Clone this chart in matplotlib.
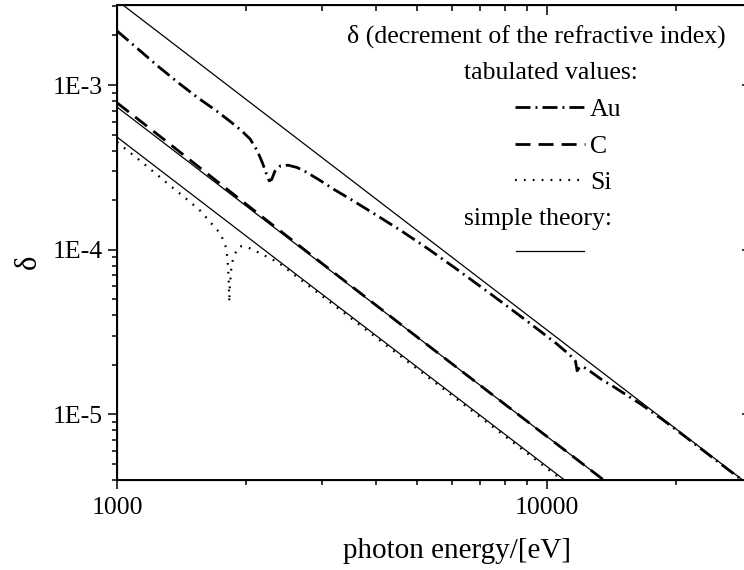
import numpy as np
import matplotlib
matplotlib.use('Agg')
import matplotlib.pyplot as plt
from matplotlib.ticker import FixedLocator, FixedFormatter, NullFormatter, LogLocator
from matplotlib.lines import Line2D

plt.rcParams['font.family'] = ['Liberation Serif', 'DejaVu Serif']

# tabulated delta values (E in eV)
au_E = [1000, 1100, 1250, 1400, 1550, 1700, 1850, 1950, 2040, 2120, 2180, 2225, 2260,
        2290, 2330, 2400, 2500, 2620, 2750, 2950, 3200, 3500, 4000, 4600, 5300, 6200,
        7500, 9000, 10500, 11300, 11650, 11760, 11850, 12100, 12600, 13400, 14200,
        15200, 16500, 18500, 21000, 25000, 30000]
au_d = [2.13e-3, 1.72e-3, 1.29e-3, 1.015e-3, 8.28e-4, 7.0e-4, 5.9e-4, 5.27e-4, 4.7e-4,
        3.99e-4, 3.36e-4, 2.9e-4, 2.62e-4, 2.67e-4, 3.0e-4, 3.23e-4, 3.26e-4, 3.16e-4,
        2.97e-4, 2.66e-4, 2.32e-4, 2.02e-4, 1.63e-4, 1.295e-4, 1.01e-4, 7.55e-5, 5.25e-5,
        3.68e-5, 2.705e-5, 2.3e-5, 2.11e-5, 1.84e-5, 1.9e-5, 1.96e-5, 1.83e-5, 1.63e-5,
        1.49e-5, 1.33e-5, 1.16e-5, 9.39e-6, 7.32e-6, 5.16e-6, 3.59e-6]

c_E = [1000, 1300, 1700, 2200, 3000, 5000, 10000, 14000]
c_d = [7.8e-4, 4.57e-4, 2.63e-4, 1.55e-4, 8.25e-5, 2.94e-5, 7.35e-6, 3.75e-6]

si_E = [1000, 1150, 1300, 1462, 1560, 1646, 1736, 1780, 1799, 1812, 1820, 1825, 1830,
        1845, 1860, 1900, 1932, 1980, 2037, 2120, 2208, 2367, 2600, 3000, 4000, 6000,
        8000, 11000, 13000]
si_d = [4.5e-4, 3.36e-4, 2.57e-4, 2.0e-4, 1.73e-4, 1.476e-4, 1.26e-4, 1.1e-4, 9.9e-5,
        8.0e-5, 6.2e-5, 4.8e-5, 6.0e-5, 7.8e-5, 8.7e-5, 1.0e-4, 1.05e-4, 1.05e-4, 1.02e-4,
        9.7e-5, 9.2e-5, 8.4e-5, 6.96e-5, 5.23e-5, 2.94e-5, 1.31e-5, 7.36e-6, 3.89e-6, 2.79e-6]

# simple theory (straight lines on log-log), values at 1 keV and 30 keV
th_E = [1000, 30000]
th_au = [3.26e-3, 3.62e-6]
th_c = [7.35e-4, 8.17e-7]
th_si = [4.83e-4, 5.37e-7]

xticks = [1000, 10000]
xticklabels = ['1000', '10000']
yticks = [1e-5, 1e-4, 1e-3]
yticklabels = ['1E-5', '1E-4', '1E-3']

fs = 18.5

fig = plt.figure(figsize=(7.44, 5.70), dpi=100)
ax = fig.add_axes([117/744, 90/570, 635/744, 475/570])

au_style = dict(color='black', lw=2.0, dashes=(5.4, 1.8, 0.7, 1.8))
c_style = dict(color='black', lw=2.0, dashes=(5.4, 2.9))
si_style = dict(color='black', lw=1.6, dashes=(0.8, 3.2))
th_style = dict(color='black', lw=0.9)

ax.plot(th_E, th_au, **th_style)
ax.plot(th_E, th_c, **th_style)
ax.plot(th_E, th_si, **th_style)
ax.plot(au_E, au_d, **au_style)
ax.plot(c_E, c_d, **c_style)
ax.plot(si_E, si_d, **si_style)

ax.set_xscale('log')
ax.set_yscale('log')
ax.set_xlim(1000, 30000)
ax.set_ylim(4e-6, 3.06e-3)

ax.xaxis.set_major_locator(FixedLocator(xticks))
ax.xaxis.set_major_formatter(FixedFormatter(xticklabels))
ax.xaxis.set_minor_locator(LogLocator(base=10, subs=np.arange(2, 10)))
ax.xaxis.set_minor_formatter(NullFormatter())
ax.yaxis.set_major_locator(FixedLocator(yticks))
ax.yaxis.set_major_formatter(FixedFormatter(yticklabels))
ax.yaxis.set_minor_locator(LogLocator(base=10, subs=np.arange(2, 10)))
ax.yaxis.set_minor_formatter(NullFormatter())

ax.tick_params(which='major', direction='out', length=6.5, width=1.1, labelsize=fs, pad=4)
ax.tick_params(axis='x', which='major', pad=5.5)
ax.tick_params(which='minor', direction='out', length=3.5, width=1.1)
for s in ax.spines.values():
    s.set_linewidth(1.4)

# top axis ticks point inwards, right axis only has inward major ticks
top = ax.twiny()
top.set_xscale('log')
top.set_xlim(ax.get_xlim())
top.xaxis.set_major_locator(FixedLocator(xticks))
top.xaxis.set_minor_locator(LogLocator(base=10, subs=np.arange(2, 10)))
top.tick_params(which='major', direction='in', length=7, width=1.1, labeltop=False)
top.tick_params(which='minor', direction='in', length=4, width=1.1)
right = ax.twinx()
right.set_yscale('log')
right.set_ylim(ax.get_ylim())
right.yaxis.set_major_locator(FixedLocator(yticks))
right.yaxis.set_minor_locator(FixedLocator([]))
right.tick_params(which='major', direction='in', length=7, width=1.1, labelright=False)

ax.set_xlabel('photon energy/[eV]', fontsize=21)
ax.xaxis.set_label_coords(0.535, -0.122)
ax.set_ylabel('δ', fontsize=22)
ax.yaxis.set_label_coords(-0.117, 0.46)

# legend block drawn by hand
T = ax.transAxes
ax.text(0.6606, 0.92, 'δ (decrement of the refractive index)', transform=T,
        ha='center', va='baseline', fontsize=fs)
ax.text(0.684, 0.8435, 'tabulated values:', transform=T, ha='center', va='baseline', fontsize=fs)
for yb, st, lab in [(0.7663, au_style, 'Au'), (0.6891, c_style, 'C'), (0.612, si_style, 'Si')]:
    ax.add_line(Line2D([0.627, 0.737], [yb + 0.019, yb + 0.019], transform=T, **st))
    ax.text(0.745, yb, lab, transform=T, ha='left', va='baseline', fontsize=fs)
ax.text(0.663, 0.5368, 'simple theory:', transform=T, ha='center', va='baseline', fontsize=fs)
ax.add_line(Line2D([0.628, 0.735], [0.482, 0.482], transform=T, **th_style))

fig.savefig('out.png', dpi=100)
